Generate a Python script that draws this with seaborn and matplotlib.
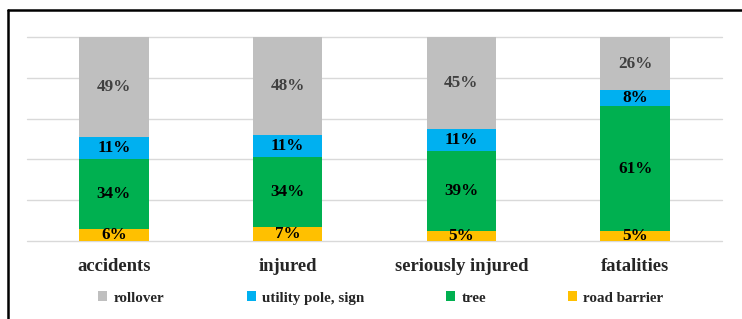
import numpy as np
import pandas as pd
import seaborn as sns
import matplotlib.pyplot as plt
from matplotlib.patches import Patch
from matplotlib.lines import Line2D

# data (percent of each outcome by object hit)
categories = ["accidents", "injured", "seriously injured", "fatalities"]
road_barrier = [6, 7, 5, 5]
tree = [34, 34, 39, 61]
utility_pole = [11, 11, 11, 8]
rollover = [49, 48, 45, 26]

series_names = ["rollover", "utility pole, sign", "tree", "road barrier"]
colors = {"rollover": "#BFBFBF", "utility pole, sign": "#00B0F0",
          "tree": "#00B050", "road barrier": "#FFC000"}

df = pd.DataFrame({"category": categories, "road barrier": road_barrier,
                   "tree": tree, "utility pole, sign": utility_pole,
                   "rollover": rollover})

# stack order from bottom to top
stack = ["road barrier", "tree", "utility pole, sign", "rollover"]
cum = df[stack].cumsum(axis=1)

sns.set_style("white")
plt.rcParams["font.family"] = ["Liberation Serif", "DejaVu Serif"]
plt.rcParams["font.weight"] = "bold"

fig = plt.figure(figsize=(7.42, 3.19), dpi=100)
ax = fig.add_axes([27 / 742, 1 - 241 / 319, 695 / 742, 204 / 319])

# draw tallest cumulative first so the lower ones sit on top
for name in reversed(stack):
    sns.barplot(x=df["category"], y=cum[name], color=colors[name],
                width=0.4, saturation=1, linewidth=0, edgecolor="none",
                ax=ax, zorder=3)

# segment labels
for i in range(len(categories)):
    base = 0
    for name in stack:
        v = df[name][i]
        tc = "#404040" if name == "rollover" else "black"
        ax.text(i, base + v / 2, f"{v}%", ha="center", va="center",
                fontsize=12.3, fontweight="bold", color=tc, zorder=5)
        base += v

ax.set_ylim(0, 100)
ax.set_xlim(-0.5, 3.5)
ax.set_yticks(np.arange(0, 101, 20))
ax.yaxis.grid(True, color="#D9D9D9", linewidth=1)
for gl in ax.get_ygridlines():
    gl.set_clip_on(False)
ax.set_axisbelow(True)
ax.tick_params(axis="y", left=False, labelleft=False)
ax.tick_params(axis="x", bottom=False, pad=9, labelsize=13.4)
for lbl in ax.get_xticklabels():
    lbl.set_fontweight("bold")
ax.set_xlabel("")
ax.set_ylabel("")
for s in ax.spines.values():
    s.set_visible(False)

handles = [Patch(facecolor=colors[n], edgecolor="none") for n in series_names]
fig.legend(handles, series_names, loc="center", ncol=4,
           bbox_to_anchor=(381 / 742, 1 - 298 / 319), frameon=False,
           prop={"size": 10.8, "weight": "bold"}, handlelength=0.6,
           handleheight=0.6, handletextpad=0.4, columnspacing=5.5)

# outer frame (left and top edges visible)
fig.add_artist(Line2D([8 / 742, 8 / 742], [0, 1 - 10 / 319],
                      color="black", linewidth=1.8, transform=fig.transFigure))
fig.add_artist(Line2D([8 / 742, 1], [1 - 10 / 319, 1 - 10 / 319],
                      color="black", linewidth=1.8, transform=fig.transFigure))

fig.savefig("out.png", dpi=100)
